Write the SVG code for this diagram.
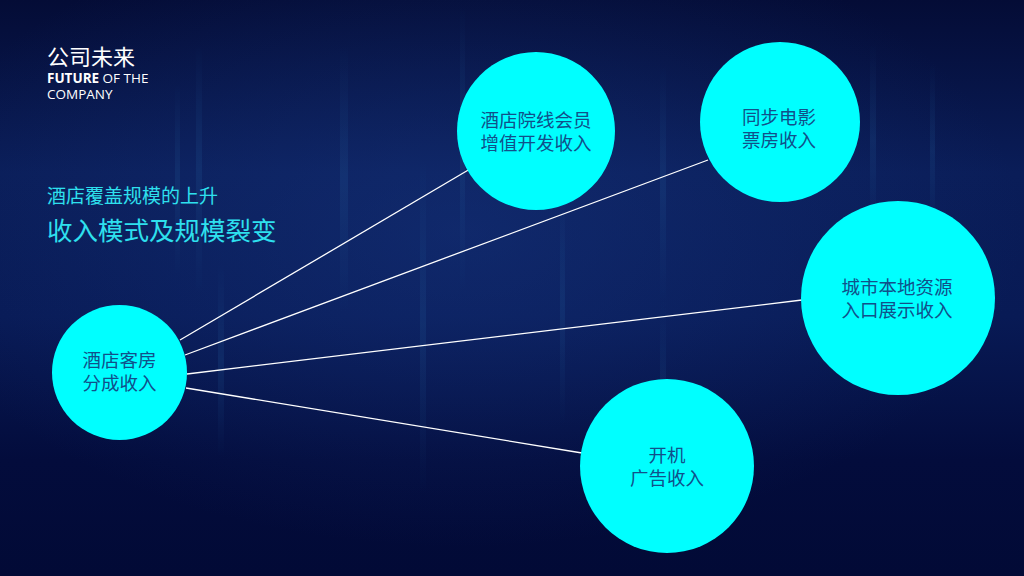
<svg xmlns="http://www.w3.org/2000/svg" width="1024" height="576" viewBox="0 0 1024 576">
<defs>
<linearGradient id="bg" x1="0" y1="0" x2="0" y2="1">
<stop offset="0" stop-color="#040c36"/>
<stop offset="0.3" stop-color="#0a1d58"/>
<stop offset="0.55" stop-color="#081a55"/>
<stop offset="0.8" stop-color="#030c3c"/>
<stop offset="1" stop-color="#020a36"/>
</linearGradient>
<radialGradient id="glow" cx="0.45" cy="0.4" r="0.55">
<stop offset="0" stop-color="#1a3c8a" stop-opacity="0.4"/>
<stop offset="1" stop-color="#1a3c8a" stop-opacity="0"/>
</radialGradient>
<linearGradient id="streak" x1="0" y1="0" x2="0" y2="1">
<stop offset="0" stop-color="#2a6aa8" stop-opacity="0"/>
<stop offset="0.5" stop-color="#2a6aa8" stop-opacity="0.25"/>
<stop offset="1" stop-color="#2a6aa8" stop-opacity="0"/>
</linearGradient>
<style>
.node circle{fill:#00ffff;}
.node text{font-family:"Noto Sans CJK SC","Noto Sans",sans-serif;font-size:18.5px;fill:#11508a;text-anchor:middle;}
.conn line{stroke:#ffffff;stroke-width:1.3;}
.title{font-family:"Noto Sans CJK SC","Noto Sans",sans-serif;fill:#2ee0ee;}
.en{font-family:"Open Sans","Noto Sans",sans-serif;font-size:13.5px;fill:#ffffff;}
</style>
</defs>
<rect width="1024" height="576" fill="url(#bg)"/>
<rect width="1024" height="576" fill="url(#glow)"/>
<g opacity="0.7">
<rect x="340" y="40" width="8" height="280" fill="url(#streak)"/>
<rect x="420" y="150" width="6" height="350" fill="url(#streak)"/>
<rect x="460" y="0" width="5" height="300" fill="url(#streak)"/>
<rect x="660" y="60" width="6" height="250" fill="url(#streak)"/>
<rect x="660" y="300" width="6" height="200" fill="url(#streak)"/>
<rect x="196" y="40" width="6" height="260" fill="url(#streak)"/>
<rect x="218" y="260" width="6" height="200" fill="url(#streak)"/>
<rect x="175" y="80" width="5" height="200" fill="url(#streak)"/>
<rect x="870" y="40" width="6" height="200" fill="url(#streak)"/>
<rect x="930" y="60" width="5" height="180" fill="url(#streak)"/>
<rect x="560" y="180" width="5" height="250" fill="url(#streak)"/>
</g>
<text x="47" y="65" font-family="&quot;Noto Sans CJK SC&quot;,&quot;Noto Sans&quot;,sans-serif" font-size="22" fill="#ffffff">公司未来</text>
<text class="en" x="47" y="83"><tspan font-weight="bold">FUTURE</tspan> OF THE</text>
<text class="en" x="47" y="98.5">COMPANY</text>
<text class="title" x="47" y="203" font-size="19">酒店覆盖规模的上升</text>
<text class="title" x="47" y="240" font-size="25.5">收入模式及规模裂变</text>
<g class="conn" id="connectors">
<line x1="180" y1="340" x2="470" y2="169"/>
<line x1="185" y1="355" x2="708" y2="160"/>
<line x1="187" y1="374" x2="802" y2="300"/>
<line x1="186" y1="388" x2="582" y2="453"/>
</g>
<g class="node" id="node-hotel-room">
<circle cx="119.5" cy="372.5" r="67.5"/>
<text x="119.5" y="367">酒店客房</text>
<text x="119.5" y="390">分成收入</text>
</g>
<g class="node" id="node-cinema-member">
<circle cx="536" cy="131" r="79"/>
<text x="536" y="127">酒店院线会员</text>
<text x="536" y="150">增值开发收入</text>
</g>
<g class="node" id="node-box-office">
<circle cx="780" cy="122" r="80"/>
<text x="779" y="124">同步电影</text>
<text x="779" y="147">票房收入</text>
</g>
<g class="node" id="node-local-resource">
<circle cx="898" cy="298" r="97"/>
<text x="897" y="294">城市本地资源</text>
<text x="897" y="317">入口展示收入</text>
</g>
<g class="node" id="node-boot-ad">
<circle cx="667" cy="466" r="87"/>
<text x="667" y="462">开机</text>
<text x="667" y="485">广告收入</text>
</g>
</svg>
